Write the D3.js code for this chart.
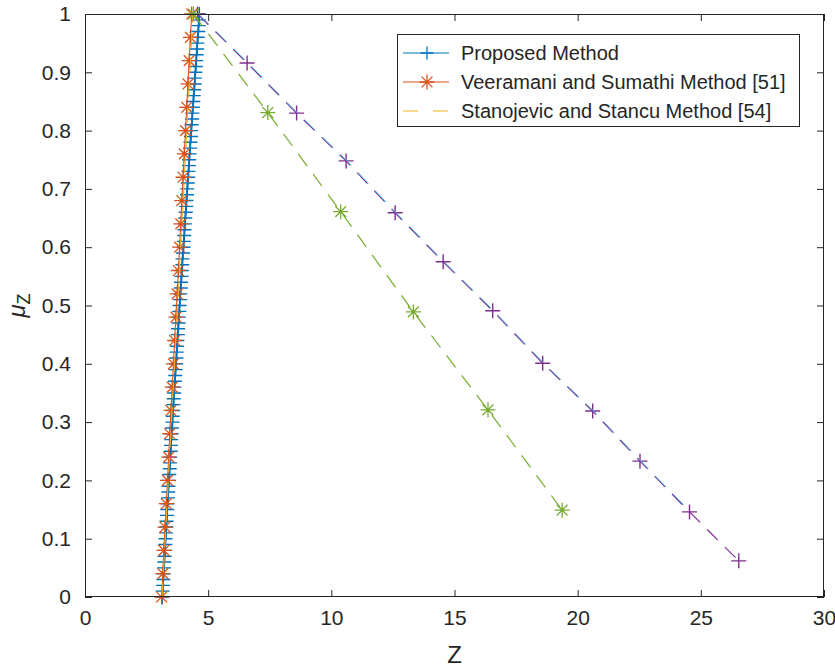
<!DOCTYPE html>
<html><head><meta charset="utf-8">
<script src="https://cdn.jsdelivr.net/npm/d3@7"></script>
<style>body{margin:0;background:#fff}text{font-family:"Liberation Sans",Arial,Helvetica,sans-serif;fill:#262626}</style>
</head><body><svg id="c" width="835" height="668"></svg>
<script>
const xTicks=[0,5,10,15,20,25,30];
const xTickLabels=["0","5","10","15","20","25","30"];
const yTicks=[0,0.1,0.2,0.3,0.4,0.5,0.6,0.7,0.8,0.9,1];
const yTickLabels=["0","0.1","0.2","0.3","0.4","0.5","0.6","0.7","0.8","0.9","1"];
const seriesNames=["Proposed Method","Veeramani and Sumathi Method [51]","Stanojevic and Stancu Method [54]"];

const proposedY=[0,0.01,0.02,0.03,0.04,0.05,0.06,0.07,0.08,0.09,0.1,0.11,0.12,0.13,0.14,0.15,0.16,0.17,0.18,0.19,0.2,0.21,0.22,0.23,0.24,0.25,0.26,0.27,0.28,0.29,0.3,0.31,0.32,0.33,0.34,0.35,0.36,0.37,0.38,0.39,0.4,0.41,0.42,0.43,0.44,0.45,0.46,0.47,0.48,0.49,0.5,0.51,0.52,0.53,0.54,0.55,0.56,0.57,0.58,0.59,0.6,0.61,0.62,0.63,0.64,0.65,0.66,0.67,0.68,0.69,0.7,0.71,0.72,0.73,0.74,0.75,0.76,0.77,0.78,0.79,0.8,0.81,0.82,0.83,0.84,0.85,0.86,0.87,0.88,0.89,0.9,0.91,0.92,0.93,0.94,0.95,0.96,0.97,0.98,0.99,1];
const proposedX=[3.14,3.15,3.17,3.18,3.19,3.21,3.22,3.23,3.25,3.26,3.27,3.29,3.30,3.31,3.33,3.34,3.35,3.37,3.38,3.39,3.41,3.42,3.44,3.45,3.46,3.48,3.49,3.50,3.52,3.53,3.55,3.56,3.58,3.59,3.60,3.62,3.63,3.65,3.66,3.68,3.69,3.71,3.72,3.74,3.75,3.77,3.78,3.80,3.81,3.83,3.84,3.86,3.87,3.89,3.90,3.92,3.93,3.95,3.96,3.98,4.00,4.01,4.03,4.04,4.06,4.07,4.09,4.11,4.12,4.14,4.15,4.17,4.19,4.20,4.22,4.23,4.25,4.27,4.28,4.30,4.31,4.33,4.35,4.36,4.38,4.40,4.41,4.43,4.45,4.46,4.48,4.50,4.51,4.53,4.55,4.56,4.58,4.60,4.61,4.63,4.64];

const veeramaniY=[0,0.04,0.08,0.12,0.16,0.2,0.24,0.28,0.32,0.36,0.4,0.44,0.48,0.52,0.56,0.6,0.64,0.68,0.72,0.76,0.8,0.84,0.88,0.92,0.96,1];
const veeramaniX=[3.11,3.16,3.20,3.25,3.30,3.35,3.40,3.44,3.49,3.54,3.59,3.64,3.69,3.74,3.79,3.84,3.89,3.93,3.98,4.03,4.08,4.13,4.18,4.23,4.28,4.33];

const stanojevicY=[0,0.1,0.2,0.3,0.4,0.5,0.6,0.7,0.8,0.9,1];
const stanojevicX=[3.13,3.26,3.38,3.51,3.63,3.76,3.88,4.01,4.13,4.26,4.38];

const series4X=[4.57,6.58,8.59,10.60,12.59,14.54,16.55,18.58,20.61,22.53,24.54,26.54];
const series4Y=[1,0.916,0.830,0.748,0.659,0.575,0.491,0.401,0.319,0.233,0.146,0.062];

const series5X=[4.40,7.42,10.38,13.33,16.36,19.37];
const series5Y=[1,0.831,0.661,0.489,0.321,0.149];

const series6X=[4.61,6.62,8.63,10.64,12.63,14.58,16.59,18.62,20.65,22.57,24.58];
const series6Y=[1,0.916,0.830,0.748,0.659,0.575,0.491,0.401,0.319,0.233,0.146];

const C={blue:"#0072BD",orange:"#D95319",yellow:"#EDB120",purple:"#7E2F8E",green:"#77AC30",cyan:"#4DBEEE"};
const L=85,R=824,T=14,B=597;
const x=d3.scaleLinear().domain([0,30]).range([L,R]);
const y=d3.scaleLinear().domain([0,1]).range([B,T]);
const svg=d3.select("#c");

function plusPath(h){return `M${-h},0H${h}M0,${-h}V${h}`;}
function starPath(h){const d=h*0.72;return `M${-h},0H${h}M0,${-h}V${h}M${-d},${-d}L${d},${d}M${-d},${d}L${d},${-d}`;}
function pts(X,Y){return X.map((v,i)=>[v,Y[i]]);}
const line=d3.line().x(d=>x(d[0])).y(d=>y(d[1]));

const ax=svg.append("g");
ax.append("rect").attr("x",L).attr("y",T).attr("width",R-L).attr("height",B-T).attr("fill","#fff");

function series(data,color,width,dash,marker,size,mw){
  const g=svg.append("g");
  g.append("path").attr("d",line(data)).attr("fill","none").attr("stroke",color).attr("stroke-width",width).attr("stroke-dasharray",dash||null);
  if(marker){
    g.selectAll("path.m").data(data).enter().append("path").attr("class","m")
      .attr("d",marker==="+"?plusPath(size):starPath(size))
      .attr("transform",d=>`translate(${x(d[0])},${y(d[1])})`)
      .attr("fill","none").attr("stroke",color).attr("stroke-width",mw);
  }
}
series(pts(proposedX,proposedY),C.blue,1.6,null,"+",7,1.4);
series(pts(veeramaniX,veeramaniY),C.orange,1.1,null,"*",7.5,1.3);
series(pts(stanojevicX,stanojevicY),C.yellow,1.1,"15,10",null);
series(pts(series4X,series4Y),C.purple,1.2,"15,10","+",7.5,1.4);
series(pts(series5X,series5Y),C.green,1.2,"15,10","*",7.5,1.3);
series(pts(series6X,series6Y),C.cyan,1.0,"15,10",null);

const axCol="#262626";
function styleAxis(g){g.selectAll(".domain").remove();g.selectAll("line").attr("stroke",axCol).attr("stroke-width",1);g.selectAll("text").style("font-size","21px").attr("fill",axCol);}
svg.append("g").attr("transform",`translate(0,${B})`).call(d3.axisBottom(x).tickValues(xTicks).tickFormat((d,i)=>xTickLabels[i]).tickSizeInner(-7).tickSizeOuter(0).tickPadding(13)).call(styleAxis);
svg.append("g").attr("transform",`translate(0,${T})`).call(d3.axisTop(x).tickValues(xTicks).tickFormat("").tickSizeInner(-7).tickSizeOuter(0)).call(styleAxis);
svg.append("g").attr("transform",`translate(${L},0)`).call(d3.axisLeft(y).tickValues(yTicks).tickFormat((d,i)=>yTickLabels[i]).tickSizeInner(-7).tickSizeOuter(0).tickPadding(14)).call(styleAxis);
svg.append("g").attr("transform",`translate(${R},0)`).call(d3.axisRight(y).tickValues(yTicks).tickFormat("").tickSizeInner(-7).tickSizeOuter(0)).call(styleAxis);
svg.append("rect").attr("x",L+0.5).attr("y",T+0.5).attr("width",R-L-1).attr("height",B-T-1).attr("fill","none").attr("stroke",axCol).attr("stroke-width",1);

svg.append("text").attr("x",(L+R)/2).attr("y",663).attr("text-anchor","middle").style("font-size","24px").text("Z");
const yl=svg.append("text").attr("transform",`translate(25,${(T+B)/2}) rotate(-90)`).attr("text-anchor","middle").style("font-size","24px");
yl.append("tspan").style("font-style","italic").text("\u03bc");
yl.append("tspan").attr("dy",5).style("font-size","18px").text("Z");

const lg=svg.append("g");
lg.append("rect").attr("x",397.5).attr("y",34.5).attr("width",402).attr("height",92).attr("fill","#fff").attr("stroke",axCol).attr("stroke-width",1);
const legColors=[C.blue,C.orange,C.yellow];
const legMarkers=["+","*",null];
const legDash=[null,null,"15,15"];
seriesNames.forEach((n,i)=>{
  const cy=53+i*29;
  lg.append("line").attr("x1",403).attr("x2",449).attr("y1",cy).attr("y2",cy).attr("stroke",legColors[i]).attr("stroke-width",1.2).attr("stroke-dasharray",legDash[i]);
  if(legMarkers[i]) lg.append("path").attr("d",legMarkers[i]==="+"?plusPath(6.5):starPath(7.5)).attr("transform",`translate(427,${cy})`).attr("fill","none").attr("stroke",legColors[i]).attr("stroke-width",1.3);
  lg.append("text").attr("x",461).attr("y",cy+7).style("font-size","20px").text(n);
});
</script></body></html>
